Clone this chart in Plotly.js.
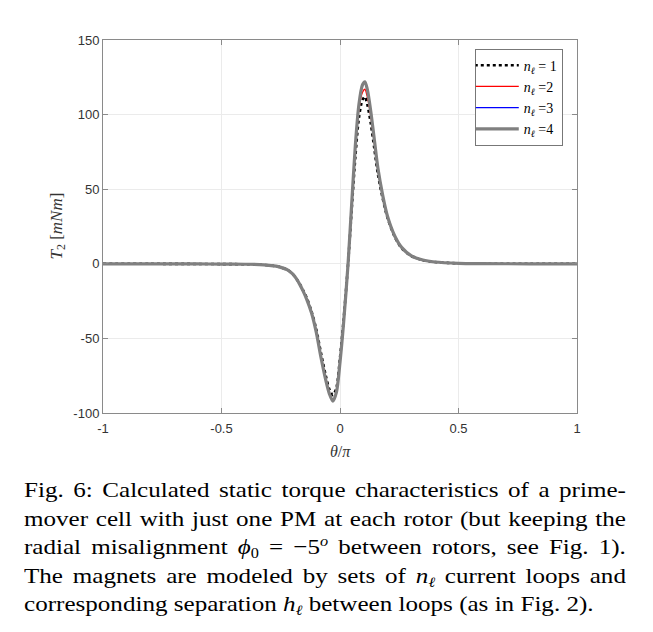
<!DOCTYPE html>
<html>
<head>
<meta charset="utf-8">
<script src="https://cdn.plot.ly/plotly-3.0.1.min.js"></script>
<style>
  html, body { margin: 0; padding: 0; background: #fff; width: 653px; height: 632px; overflow: hidden; }
  #plot { width: 653px; height: 470px; }
  #caption { position: absolute; left: 24px; top: 476px; width: 528px;
    transform: scaleX(1.14); transform-origin: 0 0;
    font-family: "Liberation Serif", "DejaVu Serif", serif; font-size: 22px; line-height: 28.5px; color: #000; }
  .ln { text-align: justify; text-align-last: justify; white-space: nowrap; }
  .ln.last { text-align-last: left; }
  .m { display: inline-block; }
  sub { font-size: 0.65em; line-height: 0; vertical-align: -0.3em; }
  sup { font-size: 0.65em; line-height: 0; vertical-align: 0.55em; }
</style>
</head>
<body>
<div id="plot"></div>
<div id="caption">
  <div class="ln">Fig. 6: Calculated static torque characteristics of a prime-</div>
  <div class="ln">mover cell with just one PM at each rotor (but keeping the</div>
  <div class="ln">radial misalignment <span class="m"><i>ϕ</i><sub>0</sub></span> = <span class="m">−5<sup><i>o</i></sup></span> between rotors, see Fig. 1).</div>
  <div class="ln">The magnets are modeled by sets of <span class="m"><i>n</i><sub><i>ℓ</i></sub></span> current loops and</div>
  <div class="ln last">corresponding separation <span class="m"><i>h</i><sub><i>ℓ</i></sub></span> between loops (as in Fig. 2).</div>
</div>
<script>
// theta / pi
const theta = [-1, -0.8, -0.6, -0.5, -0.4, -0.34, -0.3, -0.27, -0.25, -0.22, -0.2, -0.185, -0.17, -0.155, -0.14, -0.12, -0.1, -0.08, -0.06, -0.045, -0.03, -0.015, 0, 0.015, 0.034, 0.05, 0.065, 0.08, 0.095, 0.105, 0.115, 0.13, 0.145, 0.16, 0.18, 0.2, 0.23, 0.26, 0.3, 0.35, 0.4, 0.5, 0.6, 0.8, 1];
// torque T2 [mNm]
const n1 = [0, 0, -0.1, -0.2, -0.3, -0.5, -1.0, -1.6, -2.4, -4.2, -6.8, -9.8, -13.5, -18, -23, -32, -44, -60, -75, -84, -88, -83, -63, -38, 0, 38, 72, 98, 110, 112, 107, 94, 77, 60, 44, 31, 18.5, 10.5, 5.3, 2.4, 1.2, 0.3, 0.1, 0, 0];
const n2 = [0, 0, -0.1, -0.2, -0.3, -0.5, -1.0, -1.6, -2.4, -4.2, -6.8, -9.8, -13.8, -18.5, -24, -33, -46, -62, -77, -86, -92, -85, -65, -39, 0, 41, 78, 104, 115, 117, 112, 99, 81, 63, 45.5, 32, 19, 11, 5.5, 2.5, 1.2, 0.3, 0.1, 0, 0];
const n3 = [0, 0, -0.1, -0.2, -0.3, -0.5, -1.0, -1.6, -2.4, -4.2, -6.8, -9.8, -13.8, -18.5, -24, -33, -46, -63, -78, -87, -92, -86, -66, -40, 0, 42, 80, 106.5, 119.5, 121, 116.5, 102, 83, 64, 46, 32, 19, 11, 5.5, 2.5, 1.2, 0.3, 0.1, 0, 0];
const n4 = [0, 0, -0.1, -0.2, -0.3, -0.5, -1.0, -1.6, -2.4, -4.2, -6.8, -9.8, -13.8, -18.5, -24, -33, -46, -63, -78, -87, -92, -86, -66, -40, 0, 42, 80, 107, 120, 122, 117, 102, 83, 64, 46, 32, 19, 11, 5.5, 2.5, 1.2, 0.3, 0.1, 0, 0];
const names = ['<i>n</i><sub><i>ℓ</i></sub> = 1', '<i>n</i><sub><i>ℓ</i></sub> =2', '<i>n</i><sub><i>ℓ</i></sub> =3', '<i>n</i><sub><i>ℓ</i></sub> =4'];
const xTicks = [-1, -0.5, 0, 0.5, 1];
const xTickText = ['-1', '-0.5', '0', '0.5', '1'];
const yTicks = [-100, -50, 0, 50, 100, 150];
const yTickText = ['-100', '-50', '0', '50', '100', '150'];

const series = [n1, n2, n3, n4];
const styles = [
  {color: '#000000', width: 2.6, dash: 'dot'},
  {color: '#ff0000', width: 1.3, dash: 'solid'},
  {color: '#0000ff', width: 1.3, dash: 'solid'},
  {color: '#808080', width: 3.2, dash: 'solid'}
];
const traces = series.map((y, i) => ({
  x: theta, y: y, type: 'scatter', mode: 'lines', name: names[i],
  line: Object.assign({shape: 'spline', smoothing: 0.8}, styles[i])
}));

const axisCommon = {
  showline: true, linecolor: '#8a8a8a', linewidth: 1, mirror: 'ticks',
  ticks: 'inside', ticklen: 5, tickcolor: '#8a8a8a',
  showgrid: true, gridcolor: '#ebebeb', gridwidth: 1, zeroline: false,
  tickfont: {family: 'Liberation Sans, Arial, sans-serif', size: 13, color: '#333333'},
  tickmode: 'array'
};
const layout = {
  width: 653, height: 470,
  margin: {l: 103, r: 76, t: 40, b: 57},
  paper_bgcolor: '#ffffff', plot_bgcolor: '#ffffff',
  showlegend: true,
  xaxis: Object.assign({}, axisCommon, {range: [-1, 1], tickvals: xTicks, ticktext: xTickText, ticklabelstandoff: 3}),
  yaxis: Object.assign({}, axisCommon, {range: [-100, 150], tickvals: yTicks, ticktext: yTickText}),
  legend: {
    x: 0.970, y: 0.977, xanchor: 'right', yanchor: 'top',
    bgcolor: '#ffffff', bordercolor: '#777777', borderwidth: 1,
    font: {family: 'Liberation Serif, DejaVu Serif, serif', size: 14, color: '#000'},
    itemwidth: 44, tracegroupgap: 0, indentation: -6
  },
  annotations: [
    {text: '<i>θ</i>/<i>π</i>', xref: 'paper', yref: 'paper', x: 0.5, y: -0.0, yshift: -38,
     xanchor: 'center', yanchor: 'middle', showarrow: false,
     font: {family: 'Liberation Serif, DejaVu Serif, serif', size: 16, color: '#333'}},
    {text: '<i>T</i><sub>2</sub> [<i>mNm</i>]', xref: 'paper', yref: 'paper', x: 0, xshift: -46, y: 0.5,
     xanchor: 'center', yanchor: 'middle', showarrow: false, textangle: -90,
     font: {family: 'Liberation Serif, DejaVu Serif, serif', size: 17, color: '#333'}}
  ]
};
Plotly.newPlot('plot', traces, layout, {displayModeBar: false, staticPlot: true});
</script>
</body>
</html>
